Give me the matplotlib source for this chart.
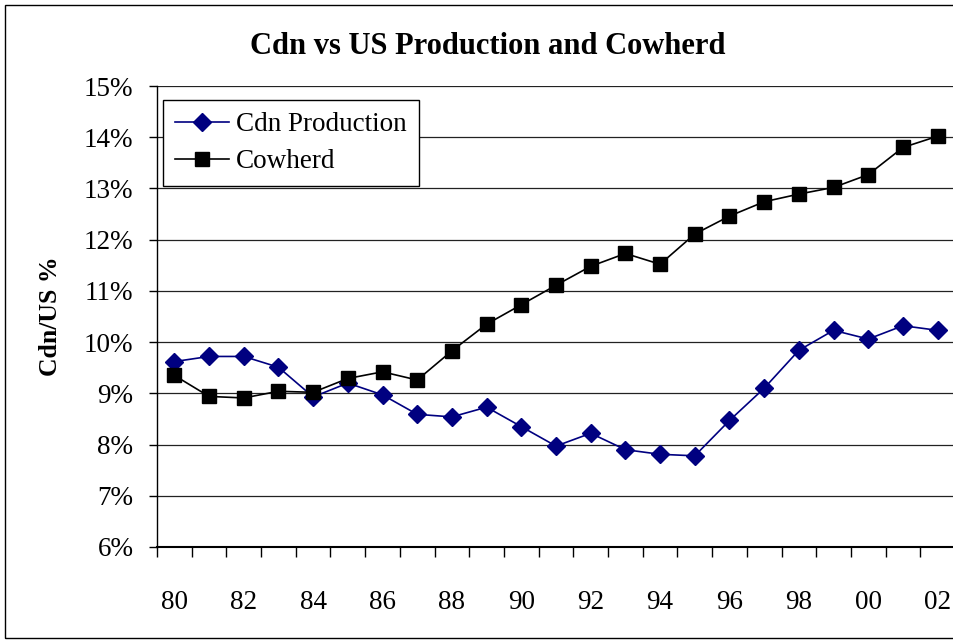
import numpy as np
import matplotlib.pyplot as plt
from matplotlib.patches import Rectangle

plt.rcParams['font.family'] = ['Liberation Serif', 'DejaVu Serif']

years = ['80', '81', '82', '83', '84', '85', '86', '87', '88', '89', '90', '91',
         '92', '93', '94', '95', '96', '97', '98', '99', '00', '01', '02']
cdn_production = [9.62, 9.72, 9.72, 9.51, 8.93, 9.20, 8.97, 8.59, 8.54, 8.73, 8.35, 7.97,
                  8.22, 7.90, 7.81, 7.78, 8.47, 9.10, 9.84, 10.23, 10.06, 10.32, 10.23]
cowherd = [9.35, 8.94, 8.91, 9.04, 9.02, 9.29, 9.42, 9.26, 9.83, 10.35, 10.73, 11.11,
           11.48, 11.73, 11.52, 12.11, 12.46, 12.74, 12.89, 13.02, 13.27, 13.80, 14.02]
y_ticks = [6, 7, 8, 9, 10, 11, 12, 13, 14, 15]

fig = plt.figure(figsize=(9.54, 6.43), dpi=100)
ax = fig.add_axes([157 / 954, (643 - 547) / 643, 798 / 954, 461 / 643])

# outer chart border (right edge is cut off in the original)
fig.patches.append(Rectangle((5 / 954, 5 / 643), 1.2, 633 / 643, transform=fig.transFigure,
                             fill=False, edgecolor='black', linewidth=1.0))

x = np.arange(len(years))
ax.plot(x, cdn_production, color='#000080', lw=1.2, marker='D', ms=9,
        label='Cdn Production', zorder=3)
ax.plot(x, cowherd, color='black', lw=1.2, marker='s', ms=9.5,
        label='Cowherd', zorder=3)

ax.set_xlim(-0.5, len(years) - 0.5)
ax.set_ylim(6, 15)

ax.set_yticks(y_ticks)
ax.set_yticklabels([f'{v}%' for v in y_ticks], fontsize=19.5)
ax.tick_params(axis='y', length=6, width=1, pad=11)
ax.yaxis.grid(True, color='#222222', lw=0.9)
ax.set_axisbelow(True)

ax.set_xticks(np.arange(-0.5, len(years), 1))
ax.set_xticklabels([])
ax.tick_params(axis='x', which='major', length=7, width=1)
ax.set_xticks(x[::2], minor=True)
ax.set_xticklabels(years[::2], minor=True, fontsize=19.5)
ax.tick_params(axis='x', which='minor', length=0, pad=31)

for side in ['top', 'right']:
    ax.spines[side].set_visible(False)
ax.spines['left'].set_linewidth(1.0)
ax.spines['bottom'].set_linewidth(1.5)

ax.set_ylabel('Cdn/US %', fontsize=18.5, fontweight='bold', labelpad=16)
fig.text(488 / 954, 1 - 46 / 643, 'Cdn vs US Production and Cowherd', fontsize=22,
         fontweight='bold', ha='center', va='center')

leg = ax.legend(loc='upper left', bbox_to_anchor=(0.0075, 0.97), borderaxespad=0,
                fontsize=19.5, fancybox=False, edgecolor='black', framealpha=1,
                handlelength=2.0, handletextpad=0.25, labelspacing=0.45,
                borderpad=0.45)
leg.get_frame().set_linewidth(1.0)

fig.savefig('out.png', dpi=100)
